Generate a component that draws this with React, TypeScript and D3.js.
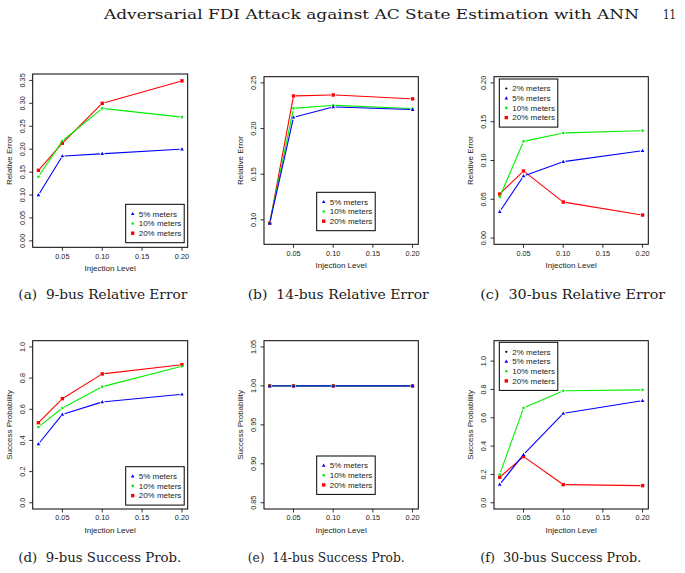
import React from "react";
import * as d3 from "d3";

// ---------------- data ----------------
const injectionLevels = [0.02, 0.05, 0.1, 0.2];
const xTicks = [0.05, 0.1, 0.15, 0.2];

const meterLabels3 = ["5% meters", "10% meters", "20% meters"];
const meterLabels4 = ["2% meters", "5% meters", "10% meters", "20% meters"];

// Relative error
const err9M5 = [0.1, 0.185, 0.19, 0.2];
const err9M10 = [0.14, 0.218, 0.289, 0.27];
const err9M20 = [0.154, 0.213, 0.3, 0.349];

const err14M5 = [0.0963, 0.2123, 0.2237, 0.2207];
const err14M10 = [0.0963, 0.2222, 0.2255, 0.2218];
const err14M20 = [0.0963, 0.2357, 0.2368, 0.2325];

const err30M5 = [0.034, 0.08, 0.0985, 0.1127];
const err30M10 = [0.0529, 0.1247, 0.1355, 0.1385];
const err30M20 = [0.0568, 0.0865, 0.0465, 0.0297];

// Success probability
const prob9M5 = [0.377, 0.567, 0.647, 0.696];
const prob9M10 = [0.486, 0.608, 0.745, 0.876];
const prob9M20 = [0.514, 0.668, 0.827, 0.886];

const prob14M5 = [1.0, 1.0, 1.0, 1.0];
const prob14M10 = [1.0, 1.0, 1.0, 1.0];
const prob14M20 = [1.0, 1.0, 1.0, 1.0];

const prob30M5 = [0.13, 0.34, 0.631, 0.721];
const prob30M10 = [0.199, 0.669, 0.79, 0.797];
const prob30M20 = [0.18, 0.326, 0.128, 0.121];

// axis limits and ticks
const ylimErr9 = [0, 0.35];
const ylimErr14 = [0.08, 0.25];
const ylimErr30 = [0, 0.2];
const ylimProb9 = [0, 1];
const ylimProb14 = [0.85, 1.05];
const ylimProb30 = [0, 1.1];

const ticksErr9 = [0, 0.05, 0.1, 0.15, 0.2, 0.25, 0.3, 0.35];
const ticksErr14 = [0.1, 0.15, 0.2, 0.25];
const ticksErr30 = [0, 0.05, 0.1, 0.15, 0.2];
const ticksProb9 = [0, 0.2, 0.4, 0.6, 0.8, 1.0];
const ticksProb14 = [0.85, 0.9, 0.95, 1.0, 1.05];
const ticksProb30 = [0, 0.2, 0.4, 0.6, 0.8, 1.0];

const headerText = "Adversarial FDI Attack against AC State Estimation with ANN";
const pageNumber = "11";

// ---------------- styles ----------------
const BLUE = "#0000FF";
const GREEN = "#00F000";
const RED = "#FF0000";
const SANS = "'Liberation Sans', Arial, Helvetica, sans-serif";
const SERIF = "'DejaVu Serif', 'Liberation Serif', serif";

type Sym = "tri" | "circ" | "sq" | "dot";

const Marker = ({ x, y, sym, color, scale = 1 }: { x: number; y: number; sym: Sym; color: string; scale?: number }) => {
  if (sym === "sq") {
    const s = 3.4 * scale;
    return <rect x={x - s / 2} y={y - s / 2} width={s} height={s} fill={color} />;
  }
  if (sym === "circ") return <circle cx={x} cy={y} r={1.3 * scale} fill={color} />;
  if (sym === "dot") return <circle cx={x} cy={y} r={1.1 * scale} fill={color} />;
  const h = 3.2 * scale;
  const w = 3.6 * scale;
  return <polygon points={`${x},${y - h * 0.6} ${x - w / 2},${y + h * 0.4} ${x + w / 2},${y + h * 0.4}`} fill={color} />;
};

type Series = { values: number[]; color: string; sym: Sym };
type Box = { left: number; right: number; top: number; bottom: number };
type LegendEntry = { label: string; color: string; sym: Sym };

const expand = (lo: number, hi: number) => {
  const d = (hi - lo) * 0.04;
  return [lo - d, hi + d];
};

function Panel({
  box,
  ylim,
  yTicks,
  yFmt,
  yLabel,
  series,
  legendPos,
  legendEntries,
}: {
  box: Box;
  ylim: number[];
  yTicks: number[];
  yFmt: string;
  yLabel: string;
  series: Series[];
  legendPos: { x: number; y: number };
  legendEntries: LegendEntry[];
}) {
  const xExt = d3.extent(injectionLevels) as [number, number];
  const x = d3.scaleLinear().domain(expand(xExt[0], xExt[1])).range([box.left, box.right]);
  const y = d3.scaleLinear().domain(expand(ylim[0], ylim[1])).range([box.bottom, box.top]);
  const fmt = d3.format(yFmt);
  const gap = 2.3;
  const tick = 3.5;

  const segs = (s: Series) => {
    const pts = injectionLevels.map((v, i) => [x(v), y(s.values[i])]);
    const out: any[] = [];
    for (let i = 0; i < pts.length - 1; i++) {
      const [x1, y1] = pts[i];
      const [x2, y2] = pts[i + 1];
      const d = Math.hypot(x2 - x1, y2 - y1);
      if (d <= 2 * gap) continue;
      const ux = (x2 - x1) / d;
      const uy = (y2 - y1) / d;
      out.push(
        <line
          key={i}
          x1={x1 + ux * gap}
          y1={y1 + uy * gap}
          x2={x2 - ux * gap}
          y2={y2 - uy * gap}
          stroke={s.color}
          strokeWidth={1.1}
        />
      );
    }
    return out;
  };

  const legW = 58.5;
  const rowGap = 9.7;
  const legH = (legendEntries.length - 1) * rowGap + 19;
  const pad = (legH - (legendEntries.length - 1) * rowGap) / 2;
  const cx = (box.left + box.right) / 2;
  const cy = (box.top + box.bottom) / 2;

  return (
    <g>
      {series.map((s, k) => (
        <g key={k}>
          {segs(s)}
          {injectionLevels.map((v, i) => (
            <Marker key={i} x={x(v)} y={y(s.values[i])} sym={s.sym} color={s.color} />
          ))}
        </g>
      ))}
      <rect
        x={box.left}
        y={box.top}
        width={box.right - box.left}
        height={box.bottom - box.top}
        fill="none"
        stroke="#000"
        strokeWidth={1}
      />
      {xTicks.map((t) => (
        <g key={t}>
          <line x1={x(t)} x2={x(t)} y1={box.bottom} y2={box.bottom + tick} stroke="#000" strokeWidth={0.8} />
          <text x={x(t)} y={box.bottom + 11.4} fontSize={7.3} fontFamily={SANS} textAnchor="middle" fill="#222">
            {d3.format(".2f")(t)}
          </text>
        </g>
      ))}
      {yTicks.map((t) => (
        <g key={t}>
          <line x1={box.left - tick} x2={box.left} y1={y(t)} y2={y(t)} stroke="#000" strokeWidth={0.8} />
          <text
            transform={`translate(${box.left - 10.5},${y(t)}) rotate(-90)`}
            dy="0.35em"
            fontSize={7.3}
            fontFamily={SANS}
            textAnchor="middle"
            fill="#222"
          >
            {fmt(t)}
          </text>
        </g>
      ))}
      <text x={cx} y={box.bottom + 23.5} fontSize={8} fontFamily={SANS} textAnchor="middle" fill="#222">
        Injection Level
      </text>
      <text
        transform={`translate(${box.left - 23.5},${cy}) rotate(-90)`}
        dy="0.35em"
        fontSize={8}
        fontFamily={SANS}
        textAnchor="middle"
        fill="#222"
      >
        {yLabel}
      </text>
      <rect x={legendPos.x} y={legendPos.y} width={legW} height={legH} fill="#fff" stroke="#000" strokeWidth={1} />
      {legendEntries.map((e, i) => {
        const ry = legendPos.y + pad + i * rowGap;
        return (
          <g key={e.label}>
            <Marker x={legendPos.x + 7} y={ry} sym={e.sym} color={e.color} />
            <text x={legendPos.x + 13} y={ry} dy="0.35em" fontSize={8} fontFamily={SANS} fill="#222">
              {e.label}
            </text>
          </g>
        );
      })}
    </g>
  );
}

const legend3: LegendEntry[] = [
  { label: meterLabels3[0], color: BLUE, sym: "tri" },
  { label: meterLabels3[1], color: GREEN, sym: "circ" },
  { label: meterLabels3[2], color: RED, sym: "sq" },
];
const legend4: LegendEntry[] = [
  { label: meterLabels4[0], color: "#000", sym: "dot" },
  { label: meterLabels4[1], color: BLUE, sym: "tri" },
  { label: meterLabels4[2], color: GREEN, sym: "circ" },
  { label: meterLabels4[3], color: RED, sym: "sq" },
];

const mk = (m5: number[], m10: number[], m20: number[]): Series[] => [
  { values: m20, color: RED, sym: "sq" },
  { values: m10, color: GREEN, sym: "circ" },
  { values: m5, color: BLUE, sym: "tri" },
];

const Caption = ({ x, y, w, text }: { x: number; y: number; w: number; text: string }) => (
  <text
    x={x}
    y={y}
    fontSize={12}
    fontFamily={SERIF}
    textLength={w}
    lengthAdjust="spacingAndGlyphs"
    fill="#1a1a1a"
    style={{ whiteSpace: "pre" }}
  >
    {text}
  </text>
);

export default function App() {
  const topRow = { top: 76.7, bottom: 244.3 };
  const botRow = { top: 340.7, bottom: 509 };
  return (
    <svg
      width={685}
      height={573}
      viewBox="0 0 685 573"
      style={{ position: "absolute", left: 0, top: 0, display: "block", background: "#fff" }}
    >
      <rect x={0} y={0} width={685} height={573} fill="#fff" />
      <text x={104} y={19} fontSize={13.5} fontFamily={SERIF} textLength={535} lengthAdjust="spacingAndGlyphs" fill="#1a1a1a">
        {headerText}
      </text>
      <text x={663} y={19} fontSize={13.5} fontFamily={SERIF} textLength={13} lengthAdjust="spacingAndGlyphs" fill="#1a1a1a">
        {pageNumber}
      </text>

      <Panel
        box={{ left: 32.7, right: 187.7, top: 74, bottom: 247.3 }}
        ylim={ylimErr9}
        yTicks={ticksErr9}
        yFmt=".2f"
        yLabel="Relative Error"
        series={mk(err9M5, err9M10, err9M20)}
        legendPos={{ x: 125.7, y: 204.3 }}
        legendEntries={legend3}
      />
      <Panel
        box={{ left: 264, right: 418.3, ...topRow }}
        ylim={ylimErr14}
        yTicks={ticksErr14}
        yFmt=".2f"
        yLabel="Relative Error"
        series={mk(err14M5, err14M10, err14M20)}
        legendPos={{ x: 316.7, y: 192.3 }}
        legendEntries={legend3}
      />
      <Panel
        box={{ left: 494, right: 648.3, ...topRow }}
        ylim={ylimErr30}
        yTicks={ticksErr30}
        yFmt=".2f"
        yLabel="Relative Error"
        series={mk(err30M5, err30M10, err30M20)}
        legendPos={{ x: 499.3, y: 79 }}
        legendEntries={legend4}
      />
      <Panel
        box={{ left: 32.7, right: 187.7, ...botRow }}
        ylim={ylimProb9}
        yTicks={ticksProb9}
        yFmt=".1f"
        yLabel="Success Probability"
        series={mk(prob9M5, prob9M10, prob9M20)}
        legendPos={{ x: 125.7, y: 466.7 }}
        legendEntries={legend3}
      />
      <Panel
        box={{ left: 264, right: 418.3, ...botRow }}
        ylim={ylimProb14}
        yTicks={ticksProb14}
        yFmt=".2f"
        yLabel="Success Probability"
        series={mk(prob14M5, prob14M10, prob14M20)}
        legendPos={{ x: 316.7, y: 456 }}
        legendEntries={legend3}
      />
      <Panel
        box={{ left: 494, right: 648.3, ...botRow }}
        ylim={ylimProb30}
        yTicks={ticksProb30}
        yFmt=".1f"
        yLabel="Success Probability"
        series={mk(prob30M5, prob30M10, prob30M20)}
        legendPos={{ x: 499.3, y: 342.3 }}
        legendEntries={legend4}
      />

      <Caption x={18.3} y={299} w={169} text="(a)  9-bus Relative Error" />
      <Caption x={247.7} y={299} w={181} text="(b)  14-bus Relative Error" />
      <Caption x={480.2} y={299} w={185} text="(c)  30-bus Relative Error" />
      <Caption x={18.3} y={562} w={163} text="(d)  9-bus Success Prob." />
      <Caption x={247.7} y={562} w={157} text="(e)  14-bus Success Prob." />
      <Caption x={480.2} y={562} w={161} text="(f)  30-bus Success Prob." />
    </svg>
  );
}
